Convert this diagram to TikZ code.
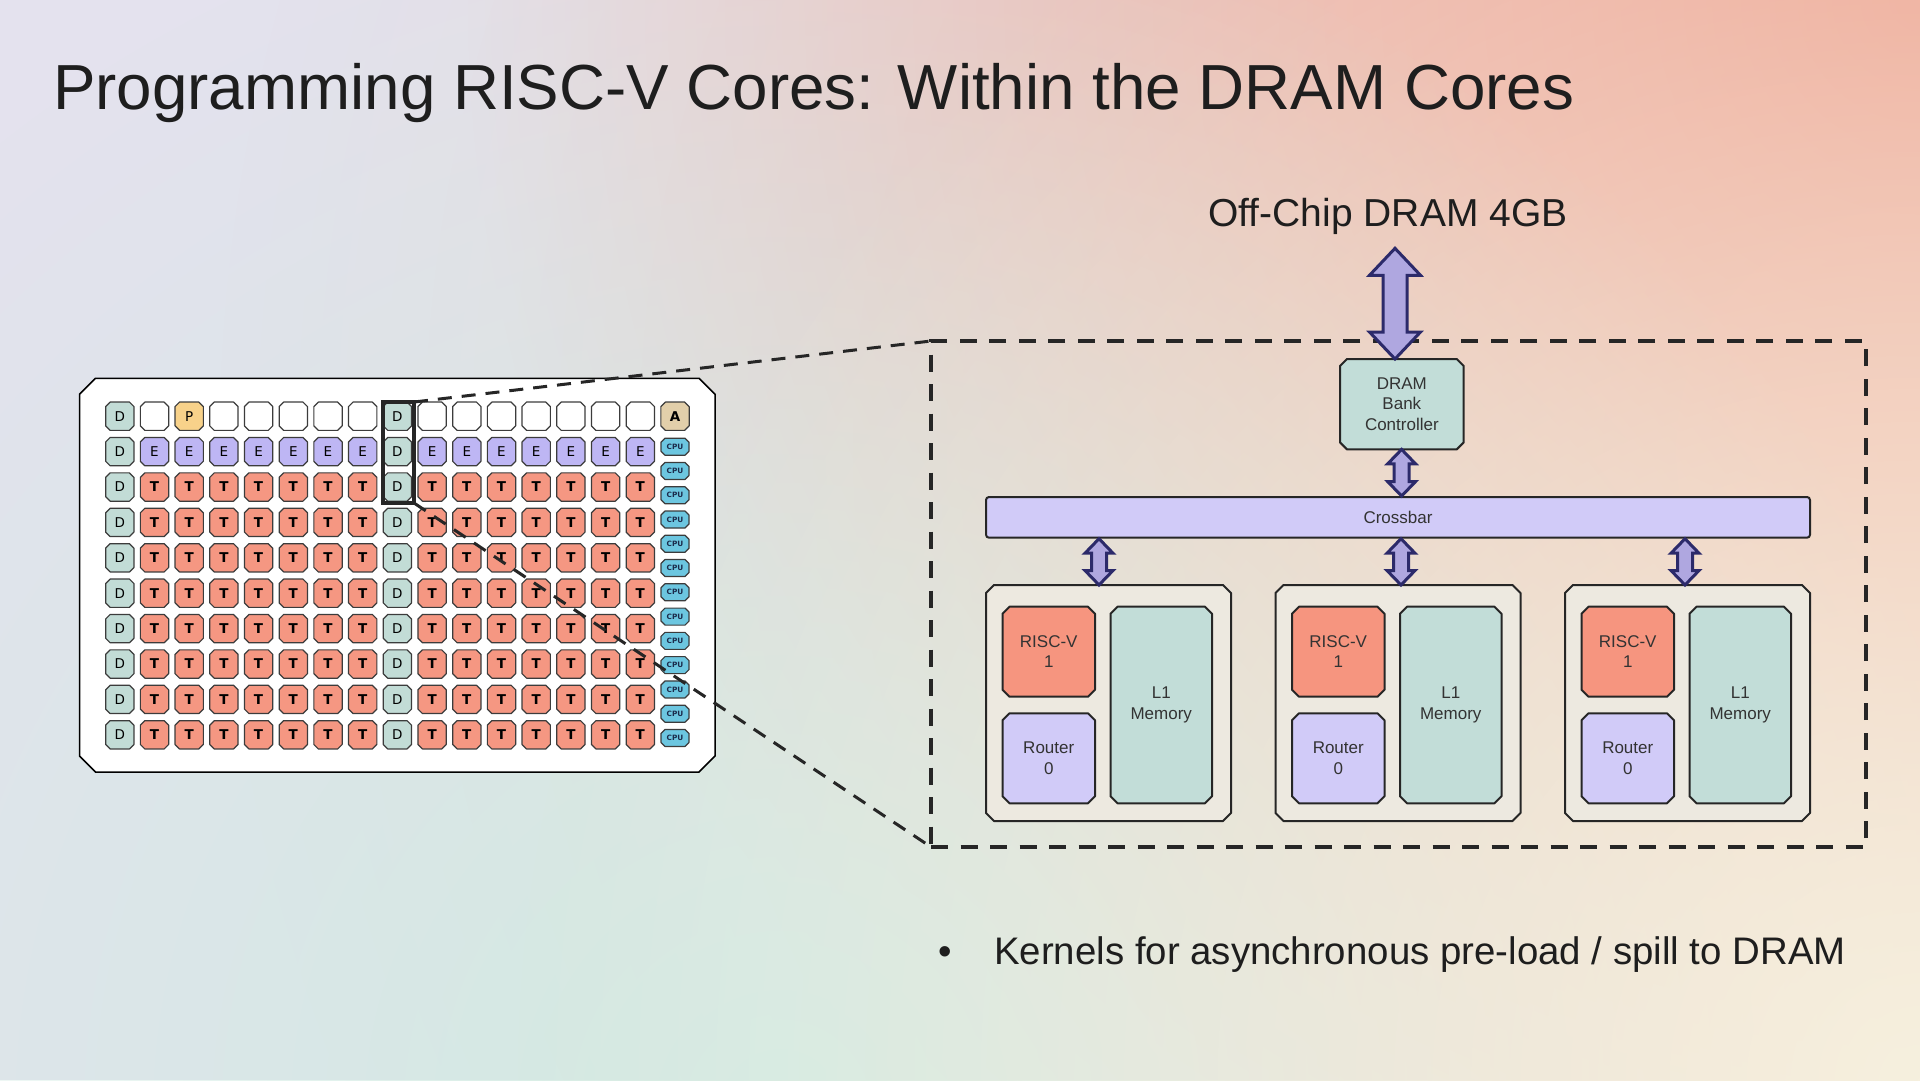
\documentclass[tikz,border=0pt]{standalone}
\usepackage{fontspec}
\setmainfont{Liberation Sans}
\newfontfamily\cellfont{DejaVu Sans}
\usetikzlibrary{fadings,calc}

\definecolor{bgbase}{HTML}{E4E2EE}
\definecolor{bgsalmon}{HTML}{F0A594}
\definecolor{bgmint}{HTML}{D2EBE3}
\definecolor{bgcream}{HTML}{F6F0DE}
\definecolor{bgpeach}{HTML}{F2D2C6}
\definecolor{cD}{HTML}{C2DCD6}
\definecolor{cT}{HTML}{F59782}
\definecolor{cE}{HTML}{BEB6F4}
\definecolor{cP}{HTML}{F8D28A}
\definecolor{cA}{HTML}{E2CFAA}
\definecolor{cCPU}{HTML}{6CC6E0}
\definecolor{cpuText}{HTML}{1B2B4B}
\definecolor{cedge}{HTML}{3C3C3C}
\definecolor{corefill}{HTML}{EDE9E0}
\definecolor{riscfill}{HTML}{F6957F}
\definecolor{routfill}{HTML}{D1CBF8}
\definecolor{memfill}{HTML}{C2DDD8}
\definecolor{arrfill}{HTML}{AFA7E0}
\definecolor{arredge}{HTML}{2C2A6A}
\definecolor{txt}{HTML}{1E1E1E}
\definecolor{boxtxt}{HTML}{333333}
\definecolor{boxedge}{HTML}{262626}

\tikzfading[name=radfade, inner color=transparent!0, outer color=transparent!100]

\pgfdeclarelayer{backdrop}
\pgfdeclarelayer{shapes}
\pgfsetlayers{backdrop,shapes,main}

\tikzset{
  cellnode/.style={inner sep=0pt, outer sep=0pt, minimum width=28.3pt, minimum height=28.3pt,
    font=\cellfont\fontsize{13.5}{14}\selectfont, text=black},
  boldcell/.style={cellnode, font=\cellfont\bfseries\fontsize{13.5}{14}\selectfont},
  cpunode/.style={inner sep=0pt, outer sep=0pt, minimum width=28pt, minimum height=17pt,
    font=\cellfont\bfseries\fontsize{7.3}{8}\selectfont, text=cpuText},
  cellline/.style={draw=cedge, line width=1.2pt, line join=round},
  shapeD/.style={cellline, fill=cD},
  shapeT/.style={cellline, fill=cT},
  shapeE/.style={cellline, fill=cE},
  shapeP/.style={cellline, fill=cP},
  shapeN/.style={cellline, fill=white},
  shapeA/.style={cellline, fill=cA},
  shapeCPU/.style={cellline, fill=cCPU},
  chipshape/.style={draw=black, line width=1.5pt, fill=white},
  plainnode/.style={inner sep=0pt, outer sep=0pt},
  selbox/.style={draw=boxedge, line width=4pt, inner sep=0pt, outer sep=0pt},
  zoombox/.style={draw=boxedge, line width=3.5pt, dash pattern=on 17pt off 12.5pt, inner sep=0pt, outer sep=0pt},
  zoomline/.style={draw=boxedge, line width=3pt, dash pattern=on 14pt off 10pt},
  boxtext/.style={inner sep=0pt, outer sep=0pt, align=center, text=boxtxt, font=\fontsize{17}{20.5}\selectfont},
  boxline/.style={draw=boxedge, line width=2pt, line join=round},
  coreshape/.style={boxline, fill=corefill},
  riscshape/.style={boxline, fill=riscfill},
  routshape/.style={boxline, fill=routfill},
  memshape/.style={boxline, fill=memfill},
  xbarbox/.style={draw=boxedge, line width=2pt, rounded corners=3pt, fill=routfill, inner sep=0pt,
    minimum width=824pt, minimum height=40.7pt, text=boxtxt, font=\fontsize{17}{20}\selectfont},
  barrow/.style={draw=arredge, fill=arrfill, line width=3pt, line join=miter},
  bigtext/.style={inner sep=0pt, text=txt},
}

% chamfered outline drawn behind a named node: style, node, chamfer
\newcommand\chamfshape[3]{%
  \begin{pgfonlayer}{shapes}
  \path[#1] ($(#2.north west)+(#3,0)$) -- ($(#2.north east)+(-#3,0)$) -- ($(#2.north east)+(0,#3)$)
    -- ($(#2.south east)+(0,-#3)$) -- ($(#2.south east)+(-#3,0)$) -- ($(#2.south west)+(#3,0)$)
    -- ($(#2.south west)+(0,-#3)$) -- ($(#2.north west)+(0,#3)$) -- cycle;
  \end{pgfonlayer}}

% block double arrow: x, top point, bottom point, head half width, shaft half width, head length
\newcommand\blockarrow[6]{%
  \filldraw[barrow] let \p1=#2, \p2=#3 in
    (#1pt,\y1) -- (#1pt+#4pt,\y1-#6pt) -- (#1pt+#5pt,\y1-#6pt) -- (#1pt+#5pt,\y2+#6pt)
    -- (#1pt+#4pt,\y2+#6pt) -- (#1pt,\y2) -- (#1pt-#4pt,\y2+#6pt) -- (#1pt-#5pt,\y2+#6pt)
    -- (#1pt-#5pt,\y1-#6pt) -- (#1pt-#4pt,\y1-#6pt) -- cycle;}

\begin{document}
\begin{tikzpicture}[x=1pt,y=-1pt]
\useasboundingbox (0,0) rectangle (1920,1080);

% background
\begin{pgfonlayer}{backdrop}
\begin{scope}
  \clip (0,0) rectangle (1920,1080);
  \fill[bgbase] (0,0) rectangle (1920,1080);
  \fill[bgpeach, path fading=radfade] (1920,450) circle (1700);
  \fill[bgsalmon, path fading=radfade] (1920,0) circle (1450);
  \fill[bgmint, path fading=radfade] (780,1110) circle (1250);
  \fill[bgcream, path fading=radfade] (1920,1080) circle (1400);
\end{scope}
\end{pgfonlayer}

% title
\node[bigtext, anchor=base west, font=\fontsize{63.7}{70}\selectfont] (title) at (53,109)
  {Programming RISC-V Cores: Within the DRAM Cores};

% chip
\node[plainnode, minimum width=635.5pt, minimum height=393.7pt] (chip) at (397.25,575.15) {};
\chamfshape{chipshape}{chip}{16}

\foreach \r in {0,...,9}{
  \foreach \c in {0,...,15}{
    \ifnum\c=0 \def\kind{D}\else\ifnum\c=8 \def\kind{D}\else
      \ifnum\r=0 \ifnum\c=2 \def\kind{P}\else\def\kind{N}\fi\else
        \ifnum\r=1 \def\kind{E}\else\def\kind{T}\fi\fi\fi\fi
    \if N\kind \def\lab{}\else\let\lab\kind\fi
    \if T\kind \def\cst{boldcell}\else\def\cst{cellnode}\fi
    \node[\cst] (c-\r-\c) at ({119.8+34.7*\c},{416.2+35.4*\r}) {\lab};
    \chamfshape{shape\kind}{c-\r-\c}{4.5}
  }
}
\node[boldcell] (c-0-16) at (675,416.2) {A};
\chamfshape{shapeA}{c-0-16}{4.5}
\foreach \k in {0,...,12}{
  \node[cpunode] (cpu-\k) at (675,{446.7+24.27*\k}) {CPU};
  \chamfshape{shapeCPU}{cpu-\k}{4}
}

% selection and zoom box
\node[selbox, minimum width=31.5pt, minimum height=101pt] (sel) at (398.25,452.5) {};
\node[zoombox, minimum width=935pt, minimum height=506pt] (dbox) at (1398.5,594) {};
\draw[zoomline] (sel.north east) -- (dbox.north west);
\draw[zoomline] (sel.south east) -- (dbox.south west);

% right side
\node[bigtext, anchor=base, font=\fontsize{39}{44}\selectfont] (offchip) at (1388,226) {Off-Chip DRAM 4GB};
\coordinate (dramtop) at (1395,248.3);
\node[boxtext, minimum width=123.7pt, minimum height=90.4pt] (ctrl) at (1401.85,404.2) {DRAM\\Bank\\Controller};
\chamfshape{memshape}{ctrl}{7}
\node[xbarbox] (xbar) at (1398,517.35) {Crossbar};

\foreach \i/\L in {1/986,2/1275.5,3/1565}{
  \node[plainnode, minimum width=245pt, minimum height=236pt] (core\i) at ({\L+122.5},703) {};
  \chamfshape{coreshape}{core\i}{8}
  \node[boxtext, minimum width=92.5pt, minimum height=90pt] (risc\i) at ({\L+62.75},651.7) {RISC-V\\1};
  \chamfshape{riscshape}{risc\i}{7}
  \node[boxtext, minimum width=92.5pt, minimum height=90pt] (rout\i) at ({\L+62.75},758.3) {Router\\0};
  \chamfshape{routshape}{rout\i}{7}
  \node[boxtext, minimum width=101.5pt, minimum height=196.6pt] (mem\i) at ({\L+175.25},705) {L1\\Memory};
  \chamfshape{memshape}{mem\i}{7}
}

\blockarrow{1395}{(dramtop)}{(ctrl.north)}{25.5}{12}{27}
\blockarrow{1401.6}{(ctrl.south)}{(xbar.north)}{14}{7.5}{14.5}
\blockarrow{1099}{(xbar.south)}{(core1.north)}{14}{7.5}{14.5}
\blockarrow{1401}{(xbar.south)}{(core2.north)}{14}{7.5}{14.5}
\blockarrow{1685}{(xbar.south)}{(core3.north)}{14}{7.5}{14.5}

% bullet
\node[bigtext, anchor=base, font=\fontsize{38.4}{44}\selectfont] (bul) at (945,964) {•};
\node[bigtext, anchor=base west, font=\fontsize{38.4}{44}\selectfont] (btext) at (994,964)
  {Kernels for asynchronous pre-load / spill to DRAM};
\end{tikzpicture}
\end{document}
